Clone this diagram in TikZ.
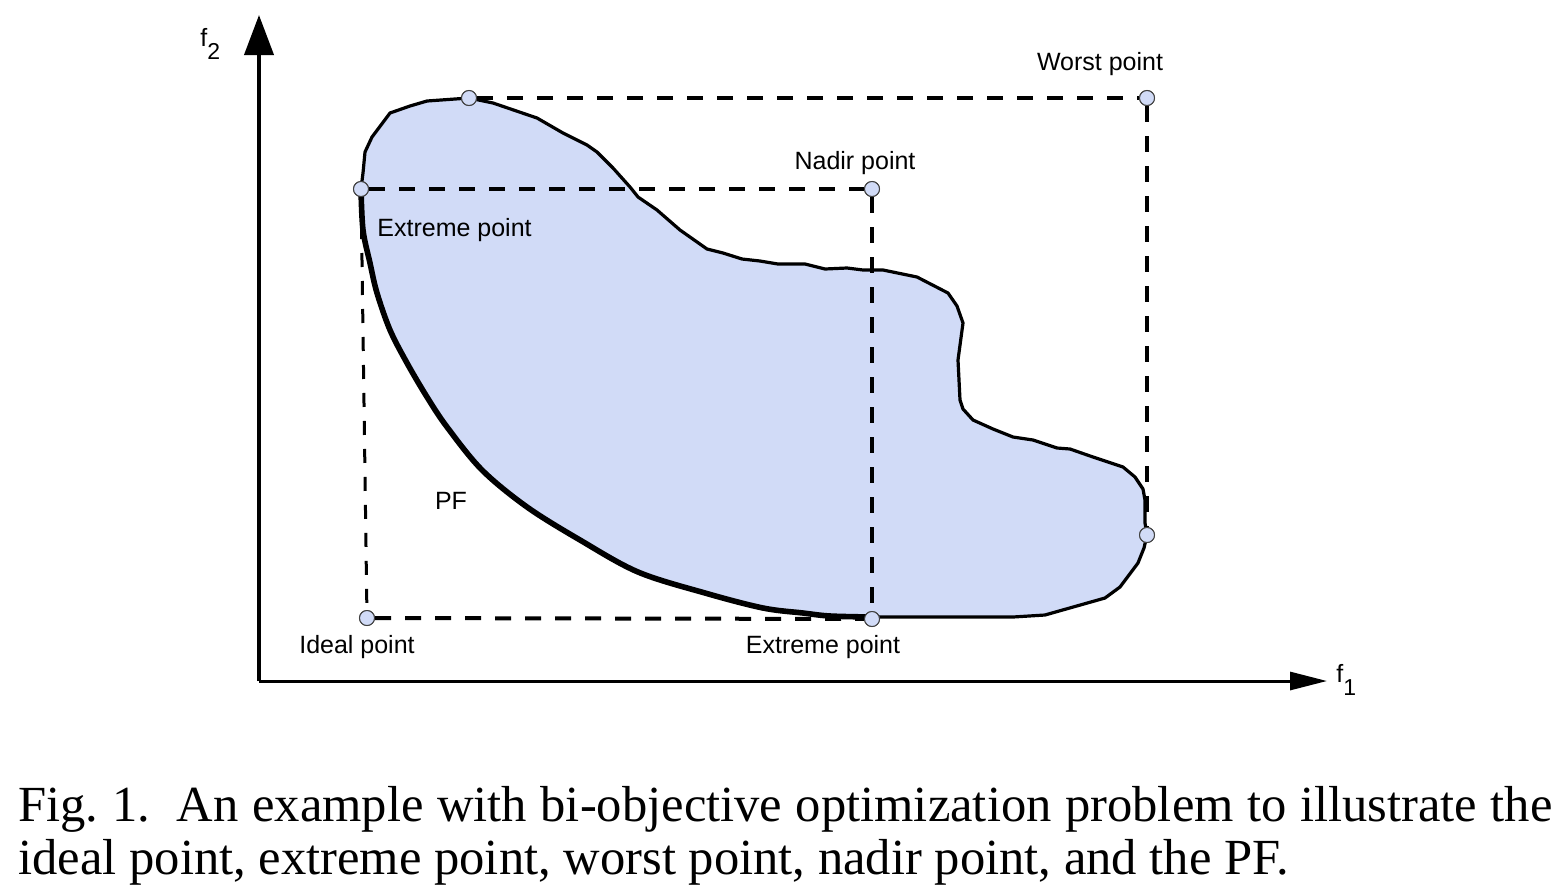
\documentclass[tikz,border=0pt]{standalone}
\usepackage{fontspec}
\setmainfont{Liberation Serif}
\setsansfont{Liberation Sans}
\usetikzlibrary{arrows.meta}
\definecolor{regfill}{RGB}{209,219,247}
\tikzset{
  pt/.style={circle, minimum size=7.5pt, inner sep=0pt, fill=regfill, draw=black!75, line width=0.5pt},
  lbl/.style={font=\sffamily\fontsize{12.5}{14}\selectfont, inner sep=0pt, text=black},
  dsh/.style={line width=2pt, dash pattern=on 8pt off 7pt},
  dshthin/.style={line width=1.5pt, dash pattern=on 7pt off 7pt},
  outline/.style={line width=1.6pt, line join=round},
  pfline/.style={line width=2.8pt, line join=round, line cap=round},
}
\begin{document}
\begin{tikzpicture}[x=0.5pt, y=-0.5pt]
\useasboundingbox (0,0) rectangle (1558,890);
% region
\path[fill=regfill] (469,98) -- (493,103) -- (537,118) -- (563,133) -- (587,145) -- (597,152) -- (613,168) -- (630,187) -- (638,197) -- (657,210) -- (680,230) -- (707,249) -- (723,253) -- (742,259) -- (760,261) -- (778,264) -- (805,264) -- (825,269) -- (847,268) -- (863,270) -- (883,270) -- (917,277) -- (948,293) -- (957,306) -- (963,323) -- (958,360) -- (960,400) -- (963,409) -- (973,420) -- (993,429) -- (1013,437) -- (1033,440) -- (1057,448) -- (1070,449) -- (1093,457) -- (1123,467) -- (1135,477) -- (1143,489) -- (1145,500) -- (1145,523) -- (1147,535) -- (1144,548) -- (1138,563) -- (1120,587) -- (1105,598) -- (1052,613) -- (1045,615) -- (1013,617)
  -- plot[smooth, tension=0.55] coordinates {(872,617) (830,616) (803,613) (763,608) (705,593) (638,572) (580,540) (527,507) (482,470) (447,427) (427,397) (407,363) (390,330) (377,293) (370,263) (363,230) (361,189)}
  -- (363,173) -- (365,152) -- (372,137) -- (390,113) -- (410,106) -- (427,101) -- cycle;
% outline (non-PF part)
\draw[outline] (361,189) -- (363,173) -- (365,152) -- (372,137) -- (390,113) -- (410,106) -- (427,101) -- (469,98) -- (493,103) -- (537,118) -- (563,133) -- (587,145) -- (597,152) -- (613,168) -- (630,187) -- (638,197) -- (657,210) -- (680,230) -- (707,249) -- (723,253) -- (742,259) -- (760,261) -- (778,264) -- (805,264) -- (825,269) -- (847,268) -- (863,270) -- (883,270) -- (917,277) -- (948,293) -- (957,306) -- (963,323) -- (958,360) -- (960,400) -- (963,409) -- (973,420) -- (993,429) -- (1013,437) -- (1033,440) -- (1057,448) -- (1070,449) -- (1093,457) -- (1123,467) -- (1135,477) -- (1143,489) -- (1145,500) -- (1145,523) -- (1147,535) -- (1144,548) -- (1138,563) -- (1120,587) -- (1105,598) -- (1052,613) -- (1045,615) -- (1013,617) -- (872,617);
% axes
\coordinate (O) at (259,681);
\coordinate (ytip) at (259,15);
\coordinate (xtip) at (1327,681);
\draw[line width=2pt, -{Triangle[length=20pt,width=14.5pt]}] (O) -- (ytip);
\draw[line width=1.5pt, -{Triangle[length=18.5pt,width=9pt]}] (O) -- (xtip);
\node[lbl, anchor=west] (f2) at (200,44) {f\raisebox{-0.95ex}{\fontsize{11.5}{12}\selectfont 2}};
\node[lbl, anchor=west] (f1) at (1336,680) {f\raisebox{-0.95ex}{\fontsize{11.5}{12}\selectfont 1}};
% points
\node[pt] (top) at (469,98) {};
\node[pt] (lext) at (361,189) {};
\node[pt] (nadir) at (872,189) {};
\node[pt] (worst) at (1147,98) {};
\node[pt] (rext) at (1147,535) {};
\node[pt] (bext) at (872,619) {};
\node[pt] (ideal) at (367,618) {};
% dashed guides
\draw[dsh] (top) -- (worst);
\draw[dsh] (worst) -- (rext);
\draw[dsh] (lext) -- (nadir);
\draw[dsh] (nadir) -- (bext);
\draw[dsh] (ideal) -- (bext);
\draw[dshthin] (lext) -- (ideal);
% PF thick line
\draw[pfline] plot[smooth, tension=0.55] coordinates {(872,617) (830,616) (803,613) (763,608) (705,593) (638,572) (580,540) (527,507) (482,470) (447,427) (427,397) (407,363) (390,330) (377,293) (370,263) (363,230) (361,189)};
% redraw points on top
\foreach \p in {top,lext,nadir,worst,rext,bext,ideal}{
  \path (\p.center) node[pt] {};
}
% labels
\node[lbl] (lworst) at (1100,64) {Worst point};
\node[lbl] (lnadir) at (855,163) {Nadir point};
\node[lbl, anchor=west] (lext1) at (377,230) {Extreme point};
\node[lbl] (lpf) at (451,501) {PF};
\node[lbl] (lideal) at (357,647) {Ideal point};
\node[lbl] (lext2) at (823,647) {Extreme point};
% caption
\node[anchor=base west, inner sep=0pt] (cap) at (18,821) {\parbox[t]{767pt}{\fontsize{25.3}{26.5}\selectfont\frenchspacing Fig.~1.\ \ An example with bi-objective optimization problem to illustrate the\linebreak ideal point, extreme point, worst point, nadir point, and the PF.}};
\end{tikzpicture}
\end{document}
